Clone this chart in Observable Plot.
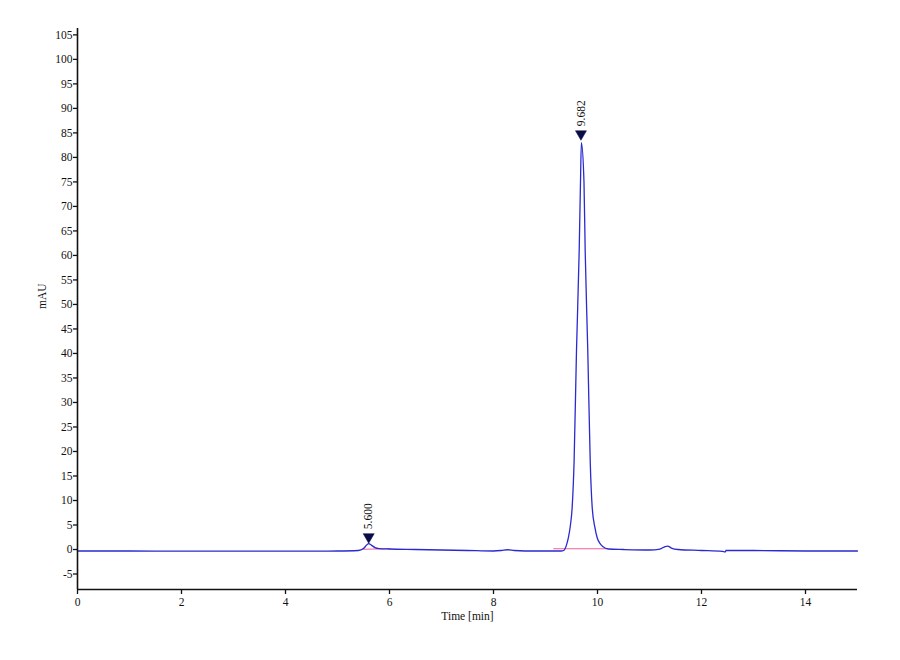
<!DOCTYPE html>
<html>
<head>
<meta charset="utf-8">
<script src="https://cdn.jsdelivr.net/npm/d3@7"></script>
<script src="https://cdn.jsdelivr.net/npm/@observablehq/plot@0.6"></script>
<style>
  html, body { margin: 0; padding: 0; background: #ffffff; }
  #chart svg { display: block; }
</style>
</head>
<body>
<div id="chart"></div>
<script>
// Chromatogram signal (time in min, absorbance in mAU)
const times = [0, 1, 2, 3, 4, 5, 5.4, 5.5, 5.56, 5.6, 5.65, 5.72, 5.8, 6.0, 6.5, 7.0, 7.5, 8.0, 8.15, 8.27, 8.4, 8.6, 9.0, 9.3, 9.35, 9.40, 9.44, 9.48, 9.513, 9.55, 9.596, 9.648, 9.673, 9.69, 9.74, 9.763, 9.813, 9.86, 9.898, 9.95, 9.994, 10.05, 10.1, 10.21, 10.5, 11.0, 11.2, 11.3, 11.35, 11.42, 11.55, 12.0, 12.4, 12.46, 12.47, 13.0, 14.0, 15.0];
const mAU   = [-0.3, -0.3, -0.35, -0.35, -0.35, -0.3, -0.2, 0.2, 0.9, 1.2, 0.9, 0.4, 0.2, 0.1, 0.0, -0.1, -0.2, -0.3, -0.2, -0.05, -0.2, -0.3, -0.3, -0.3, -0.2, 0.8, 2.4, 5.0, 8.6, 18, 40.6, 61, 75, 83, 75, 61, 40.6, 18, 8.6, 4.5, 2.4, 1.2, 0.6, 0.1, 0.0, -0.1, 0.1, 0.6, 0.7, 0.3, 0.0, -0.2, -0.4, -0.5, -0.2, -0.2, -0.3, -0.3];

// Integration baselines (pink)
const baseStart = [5.48, 9.15];
const baseEnd   = [6.02, 10.2];
const baseStartVal = [0.05, 0.15];
const baseEndVal   = [0.15, 0.15];

// Peak annotations
const peakTimes  = [5.600, 9.682];
const peakHeights = [1.3, 83.5];
const peakLabels = ["5.600", "9.682"];

// Axes
const xTicks = [0, 2, 4, 6, 8, 10, 12, 14];
const yTicks = [-5, 0, 5, 10, 15, 20, 25, 30, 35, 40, 45, 50, 55, 60, 65, 70, 75, 80, 85, 90, 95, 100, 105];
const xDomain = [0, 15];
const yDomain = [-8.16, 106.3];

const signal = times.map((t, i) => ({t, v: mAU[i]}));
const baselines = baseStart.map((s, i) => ({x1: s, x2: baseEnd[i], y1: baseStartVal[i], y2: baseEndVal[i]}));
const peaks = peakTimes.map((t, i) => ({t, v: peakHeights[i], label: peakLabels[i]}));

const chart = Plot.plot({
  width: 900,
  height: 660,
  marginLeft: 77,
  marginRight: 43,
  marginTop: 28,
  marginBottom: 71,
  style: {fontFamily: "'Liberation Serif', 'Times New Roman', serif", fontSize: "11.5px", color: "#111", background: "#ffffff"},
  x: {domain: xDomain},
  y: {domain: yDomain},
  marks: [
    Plot.axisY({ticks: yTicks, tickSize: 4, tickPadding: 1, tickFormat: d => String(d), label: null, strokeWidth: 1.3}),
    Plot.axisX({ticks: xTicks, tickSize: 5, tickPadding: 3, tickFormat: d => String(d), label: null, strokeWidth: 1.3}),
    Plot.text(["mAU"], {frameAnchor: "left", dx: -35, rotate: -90, fontSize: 11.5}),
    Plot.text(["Time [min]"], {frameAnchor: "bottom", dy: 30, fontSize: 11.5}),
    Plot.link(baselines, {x1: "x1", x2: "x2", y1: "y1", y2: "y2", stroke: "#f0609a", strokeWidth: 1.2}),
    Plot.line(signal, {x: "t", y: "v", stroke: "#2a2ad0", strokeWidth: 1.3, curve: "monotone-x"}),
    Plot.ruleX([xDomain[0]], {stroke: "#111", strokeWidth: 1.6}),
    Plot.ruleY([yDomain[0]], {stroke: "#111", strokeWidth: 1.6}),
    Plot.dot(peaks, {x: "t", y: "v", symbol: "triangle", rotate: 180, r: 4.1, dy: -6.3, fill: "#0b0b45", stroke: "#0b0b45", strokeWidth: 0.5}),
    Plot.text(peaks, {x: "t", y: "v", text: "label", rotate: -90, textAnchor: "start", dy: -14, fontSize: 11.5, fill: "#111"})
  ]
});
document.getElementById("chart").appendChild(chart);
</script>
</body>
</html>
